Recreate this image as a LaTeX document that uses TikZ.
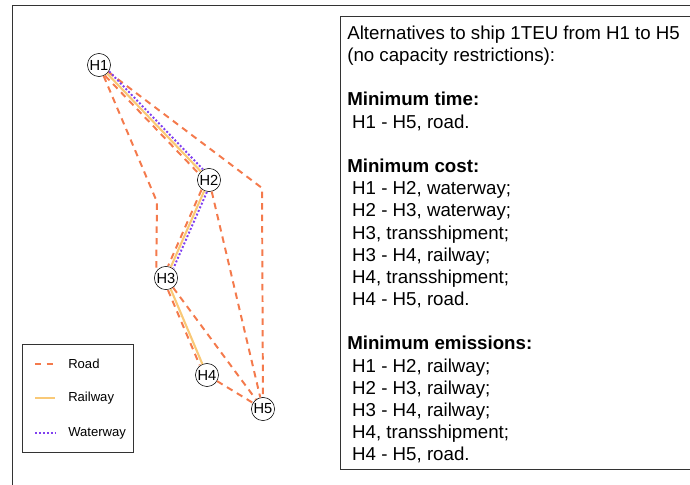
\documentclass[tikz,border=0pt]{standalone}
\usepackage{fontspec}
\setmainfont{Liberation Sans}
\usetikzlibrary{positioning}
\definecolor{roadc}{HTML}{F47A4C}
\definecolor{railc}{HTML}{F9C977}
\definecolor{waterc}{HTML}{8040F0}
\definecolor{framec}{HTML}{333333}
\tikzstyle{hub}=[draw, circle, inner sep=0.5pt, minimum size=15.6pt, font=\fontsize{10.4}{10.4}\selectfont]
\tikzstyle{road}=[draw=roadc, line width=1.4pt, dash pattern=on 4.6pt off 3.6pt]
\tikzstyle{rail}=[draw=railc, line width=1.5pt]
\tikzstyle{water}=[draw=waterc, line width=1.4pt, dash pattern=on 1.4pt off 1.4pt]
\tikzstyle{frame}=[draw=framec, line width=0.7pt]
\tikzstyle{key}=[anchor=west, inner sep=0pt, font=\fontsize{9.3}{10}\selectfont]

\begin{document}
\begin{tikzpicture}[x=0.025cm, y=-0.025cm]
	\clip (0,0) rectangle (690,485);
	\draw[frame] (12,5) rectangle (720,500);
	\draw[frame] (340,16) rectangle (720,469);

	\node[hub] (H1) at (99,65) {H1};
	\node[hub] (H2) at (209,180) {H2};
	\node[hub] (H3) at (166,278) {H3};
	\node[hub] (H4) at (207,375) {H4};
	\node[hub] (H5) at (263,409) {H5};
	\coordinate (B13) at (157,202);
	\coordinate (B15) at (262,188);

	% road
	\draw[road] (H1) -- (B13) -- (H3.145);
	\draw[road] (H1) -- (B15) -- (H5);
	\draw[road, transform canvas={shift={(-1.5pt,-1.5pt)}}] (H1) -- (H2);
	\draw[road, transform canvas={shift={(-1.9pt,0.8pt)}}] (H2) -- (H3);
	\draw[road, transform canvas={shift={(-1.9pt,-0.8pt)}}] (H3) -- (H4);
	\draw[road] (H2) -- (H5);
	\draw[road] (H3) -- (H5);
	\draw[road] (H4) -- (H5);
	% railway
	\draw[rail] (H1) -- (H2);
	\draw[rail] (H2) -- (H3);
	\draw[rail] (H3) -- (H4);
	% waterway
	\draw[water, transform canvas={shift={(1.5pt,1.5pt)}}] (H1) -- (H2);
	\draw[water, transform canvas={shift={(1.9pt,-0.8pt)}}] (H2) -- (H3);

	% legend
	\draw[frame] (22,344) rectangle (133,452);
	\node[key] (kroad) at (68,364) {Road};
	\node[key] (krail) at (68,398) {Railway};
	\node[key] (kwater) at (68,433) {Waterway};
	\coordinate (kr0) at (35,364);  \coordinate (kr1) at (55,364);
	\coordinate (kl0) at (35,398);  \coordinate (kl1) at (55,398);
	\coordinate (kw0) at (35,433);  \coordinate (kw1) at (55,433);
	\draw[road] (kr0) -- (kr1);
	\draw[rail] (kl0) -- (kl1);
	\draw[water] (kw0) -- (kw1);

	\node[anchor=north west, inner sep=0pt, align=left, font=\fontsize{13.3}{15.78}\selectfont] (notes) at (347,25.5) {%
		Alternatives to ship 1TEU from H1 to H5\\
		(no capacity restrictions):\\[\baselineskip]
		\textbf{Minimum time:}\\
		\hspace{3.5pt}H1 - H5, road.\\[\baselineskip]
		\textbf{Minimum cost:}\\
		\hspace{3.5pt}H1 - H2, waterway;\\
		\hspace{3.5pt}H2 - H3, waterway;\\
		\hspace{3.5pt}H3, transshipment;\\
		\hspace{3.5pt}H3 - H4, railway;\\
		\hspace{3.5pt}H4, transshipment;\\
		\hspace{3.5pt}H4 - H5, road.\\[\baselineskip]
		\textbf{Minimum emissions:}\\
		\hspace{3.5pt}H1 - H2, railway;\\
		\hspace{3.5pt}H2 - H3, railway;\\
		\hspace{3.5pt}H3 - H4, railway;\\
		\hspace{3.5pt}H4, transshipment;\\
		\hspace{3.5pt}H4 - H5, road.};
\end{tikzpicture}
\end{document}
